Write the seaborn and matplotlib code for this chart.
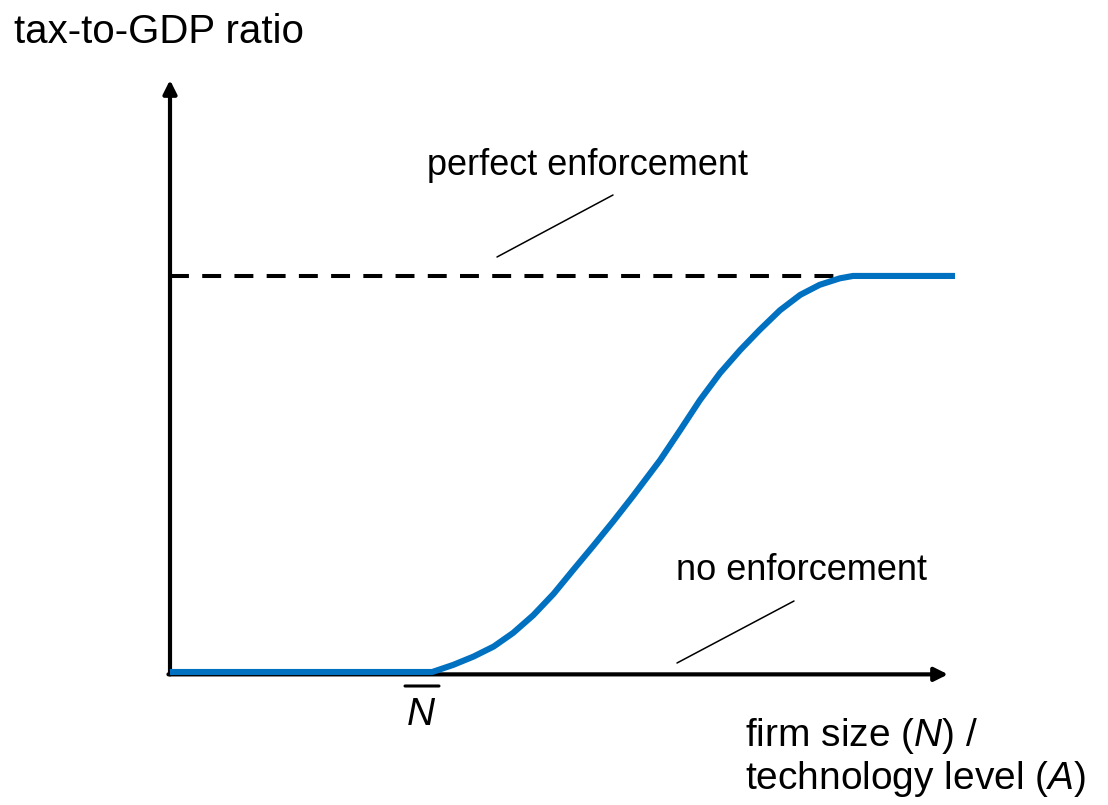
import numpy as np
import pandas as pd
import matplotlib
matplotlib.use("Agg")
import matplotlib.pyplot as plt
from matplotlib.patches import ConnectionPatch
import seaborn as sns

# Schematic: tax-to-GDP ratio vs firm size / technology level
firm_size = [0.0, 3.37, 3.64, 3.90, 4.16, 4.41, 4.67, 4.93, 5.18, 5.44, 5.70, 5.95,
             6.30, 6.56, 6.81, 7.07, 7.33, 7.58, 7.84, 8.10, 8.35, 8.61, 8.78, 10.09]
tax_ratio = [0.0, 0.0, 0.012, 0.026, 0.043, 0.066, 0.096, 0.132, 0.172, 0.213, 0.255, 0.297,
             0.358, 0.409, 0.459, 0.505, 0.544, 0.578, 0.611, 0.637, 0.654, 0.665, 0.669, 0.669]
perfect_x = [0.0, 8.78]
perfect_y = [0.669, 0.669]
n_bar = 3.37

sns.set_theme(style="white")
plt.rcParams['font.family'] = ['Liberation Sans', 'DejaVu Sans']
plt.rcParams['text.color'] = 'black'
plt.rcParams['mathtext.fontset'] = 'custom'
plt.rcParams['mathtext.it'] = 'Liberation Sans:italic'
plt.rcParams['mathtext.rm'] = 'Liberation Sans'

W, H = 1108, 805
fig = plt.figure(figsize=(W / 100, H / 100), dpi=100)
ax = fig.add_axes([170 / W, (H - 672) / H, (948 - 170) / W, (672 - 80) / H])

curve = pd.DataFrame({"x": firm_size, "y": tax_ratio})
perfect = pd.DataFrame({"x": perfect_x, "y": perfect_y})

sns.lineplot(data=perfect, x="x", y="y", ax=ax, color="black", lw=2.9,
             sort=False, zorder=2)
ax.lines[-1].set_dashes((4.7, 3.3))
sns.lineplot(data=curve, x="x", y="y", ax=ax, color="#0070C0", lw=4.4,
             sort=False, zorder=4, clip_on=False, solid_joinstyle="round",
             solid_capstyle="butt")

ax.set_xlim(0, 10)
ax.set_ylim(0, 1)
for s in ax.spines.values():
    s.set_visible(False)
ax.set_xlabel("")
ax.set_ylabel("")
ax.set_xticks([])
ax.set_yticks([])

# axes with arrow heads
arrow = dict(arrowstyle="-|>", lw=3.0, color="black", shrinkA=0, shrinkB=0,
             mutation_scale=20)
ax.annotate("", xy=(0, 1), xytext=(0, -0.004), xycoords="axes fraction",
            textcoords="axes fraction", arrowprops=arrow, zorder=3)
ax.annotate("", xy=(1, -0.004), xytext=(-0.002, -0.004), xycoords="axes fraction",
            textcoords="axes fraction", arrowprops=arrow, zorder=3)


def px(x, y):
    return (x / W, 1 - y / H)


fig.text(*px(14, 43), "tax-to-GDP ratio", fontsize=29, va="baseline", ha="left")
fig.text(*px(427, 175), "perfect enforcement", fontsize=26, va="baseline", ha="left")
fig.text(*px(676, 580), "no enforcement", fontsize=26, va="baseline", ha="left")
fig.text(*px(745, 746), r"firm size ($\it{N}$) /", fontsize=28, va="baseline", ha="left")
fig.text(*px(745, 789), r"technology level ($\it{A}$)", fontsize=28, va="baseline", ha="left")

# N-bar threshold label under the kink
fig.text(*px(421, 725), "N", fontsize=28, style="italic", va="baseline", ha="center")
fig.add_artist(ConnectionPatch((405, H - 686), (439, H - 686), "figure pixels",
                               lw=2.2, color="black"))

# leader lines for the labels
fig.add_artist(ConnectionPatch((497, H - 257), (613, H - 195), "figure pixels",
                               lw=1.1, color="black"))
fig.add_artist(ConnectionPatch((677, H - 663), (794, H - 601), "figure pixels",
                               lw=1.1, color="black"))

fig.savefig("out.png", dpi=100)
